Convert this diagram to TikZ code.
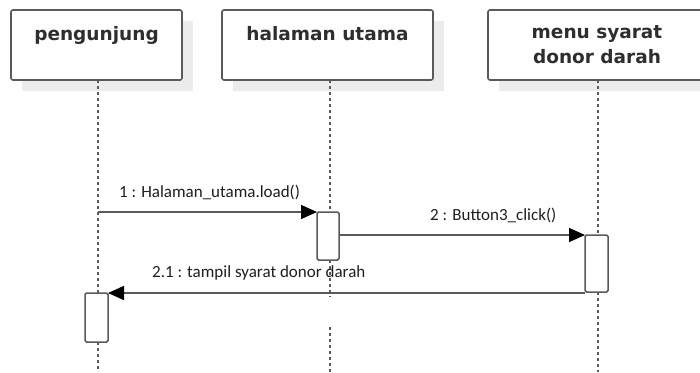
\documentclass[tikz,border=0pt]{standalone}
\usepackage{fontspec}
\setmainfont{Carlito}
\newfontfamily\headfont{DejaVu Sans}
\usetikzlibrary{arrows.meta}
\definecolor{edgegray}{HTML}{5A5A5A}
\definecolor{shadowgray}{HTML}{ECECEC}
\definecolor{headtext}{HTML}{2E2E2E}
\definecolor{msgtext}{HTML}{1E1E1E}
\begin{document}
\begin{tikzpicture}[x=1pt,y=-1pt,
  headbox/.style={draw=edgegray,line width=1.6pt,rounded corners=2pt,fill=white},
  headshadow/.style={fill=shadowgray,draw=none},
  headlabel/.style={font=\headfont\bfseries\fontsize{18.5}{24}\selectfont,text=headtext,anchor=base,inner sep=0pt},
  lifeline/.style={draw=edgegray,line width=1.4pt,dash pattern=on 3pt off 3pt},
  actbox/.style={draw=edgegray,line width=1.5pt,rounded corners=1.5pt,fill=white},
  msg/.style={draw=edgegray,line width=1.5pt,-{Triangle[length=16pt,width=14pt,color=black,fill=black]}},
  msglabel/.style={font=\fontsize{17}{20}\selectfont,text=msgtext,anchor=base west,inner sep=0pt}]
\useasboundingbox (0,0) rectangle (700,372);

% lifeline heads with their drop shadows
\fill[headshadow] (22,21) rectangle (193,91);
\fill[headshadow] (233,21) rectangle (444,91);
\fill[headshadow] (499,21) rectangle (720,91);
\draw[headbox] (11,10) rectangle (182,80);
\draw[headbox] (222,10) rectangle (433,80);
\draw[headbox] (488,10) rectangle (710,80);
\node[headlabel] (hpeng) at (96.5,40) {pengunjung};
\node[headlabel] (hhal) at (327.5,40) {halaman utama};
\node[headlabel] (hmenu1) at (597,38) {menu syarat};
\node[headlabel] (hmenu2) at (597,63) {donor darah};

% activation bars
\draw[actbox] (317,212) rectangle (339,260);
\draw[actbox] (585,235) rectangle (608,292);
\draw[actbox] (85,293) rectangle (108,342);

% lifelines
\coordinate (l1top) at (98,80);
\coordinate (l1a) at (98,293);
\coordinate (l1b) at (98,342);
\coordinate (l1end) at (98,372);
\coordinate (l2top) at (330,80);
\coordinate (l2a) at (330,212);
\coordinate (l2b) at (330,260);
\coordinate (l2c) at (330,297);
\coordinate (l2d) at (330,327);
\coordinate (l2end) at (330,372);
\coordinate (l3top) at (598,80);
\coordinate (l3a) at (598,235);
\coordinate (l3b) at (598,292);
\coordinate (l3end) at (598,372);
\draw[lifeline] (l1top) -- (l1a);
\draw[lifeline] (l1b) -- (l1end);
\draw[lifeline] (l2top) -- (l2a);
\draw[lifeline] (l2b) -- (l2c);
\draw[lifeline] (l2d) -- (l2end);
\draw[lifeline] (l3top) -- (l3a);
\draw[lifeline] (l3b) -- (l3end);

% messages
\coordinate (m1s) at (98,212);
\coordinate (m1e) at (317,212);
\coordinate (m2s) at (339,235);
\coordinate (m2e) at (585,235);
\coordinate (m3s) at (585,293);
\coordinate (m3e) at (108,293);
\draw[msg] (m1s) -- (m1e);
\draw[msg] (m2s) -- (m2e);
\draw[msg] (m3s) -- (m3e);
\node[msglabel] (t1) at (119,197) {1 : Halaman\_utama.load()};
\node[msglabel] (t2) at (430,220) {2 : Button3\_click()};
\node[msglabel] (t3) at (152,277) {2.1 : tampil syarat donor darah};
\end{tikzpicture}
\end{document}
